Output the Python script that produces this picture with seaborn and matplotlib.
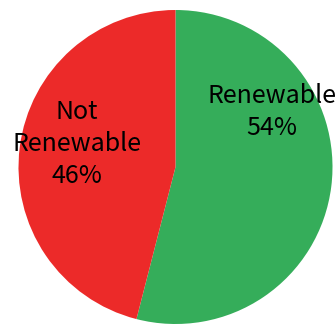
import matplotlib
matplotlib.use("Agg")
import matplotlib.pyplot as plt
import seaborn as sns

categories = ["Renewable", "Not\nRenewable"]
shares = [54, 46]
colors = ["#35AD5A", "#EC2A29"]

sns.set_theme(style="white")
plt.rcParams['font.family'] = ['Noto Sans CJK SC', 'DejaVu Sans']

W, H = 336, 325
fig = plt.figure(figsize=(W / 100, H / 100), dpi=100)
ax = fig.add_axes([0, 0, 1, 1])
ax.set_axis_off()

cx, cy, r = 175.5, 167.0, 157.0  # pixel geometry of the pie
ax.pie(shares, colors=colors, startangle=90, counterclock=False,
       radius=1, center=(0, 0), wedgeprops=dict(linewidth=0))
ax.set_xlim(-cx / r, (W - cx) / r)
ax.set_ylim(-(H - cy) / r, cy / r)
ax.set_aspect('auto')

def px(x, y):
    return (x - cx) / r, (cy - y) / r

label_pos = [(272, 112), (77, 144)]
for cat, val, (x, y) in zip(categories, shares, label_pos):
    dx, dy = px(x, y)
    ax.text(dx, dy, f"{cat}\n{val}%", ha='center', va='center',
            fontsize=18, color='black', linespacing=1.32)

fig.savefig("out.png", dpi=100)
